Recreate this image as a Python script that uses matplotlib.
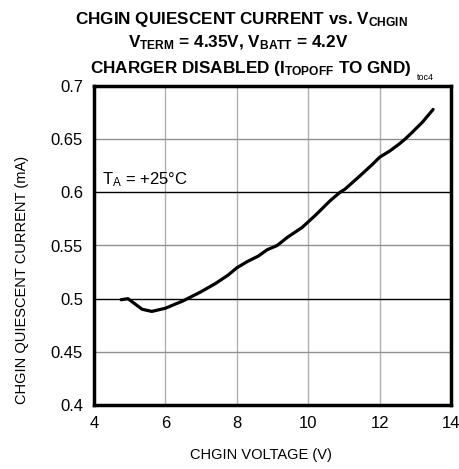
import matplotlib
matplotlib.use('Agg')
import matplotlib.pyplot as plt

plt.rcParams['font.family'] = ['Liberation Sans', 'DejaVu Sans']
plt.rcParams['mathtext.fontset'] = 'custom'
plt.rcParams['mathtext.rm'] = 'Liberation Sans'
plt.rcParams['mathtext.bf'] = 'Liberation Sans:bold'

# curve
v_chgin = [4.76, 4.95, 5.15, 5.35, 5.62, 6.0, 6.5, 6.97, 7.39, 7.75, 8.0, 8.3, 8.6, 8.85,
           9.13, 9.43, 9.83, 10.22, 10.61, 10.89, 11.03, 11.4, 11.79, 12.0, 12.29, 12.57,
           12.71, 12.9, 13.2, 13.5]
i_q = [0.499, 0.500, 0.495, 0.490, 0.488, 0.491, 0.498, 0.506, 0.514, 0.522, 0.529,
       0.535, 0.540, 0.546, 0.550, 0.558, 0.567, 0.579, 0.592, 0.600, 0.603, 0.614,
       0.626, 0.633, 0.639, 0.646, 0.650, 0.656, 0.666, 0.678]

xticks = [4, 6, 8, 10, 12, 14]
yticks = [0.4, 0.45, 0.5, 0.55, 0.6, 0.65, 0.7]
ylabels = ['0.4', '0.45', '0.5', '0.55', '0.6', '0.65', '0.7']

fig = plt.figure(figsize=(4.6, 4.69), dpi=100)
ax = fig.add_axes([94 / 460, 1 - 405 / 469, 357 / 460, 319 / 469])

ax.set_xlim(4, 14)
ax.set_ylim(0.4, 0.7)
ax.set_xticks(xticks)
ax.set_yticks(yticks)
ax.set_yticklabels(ylabels)
ax.tick_params(length=0, labelsize=12, pad=8)

for x in xticks[1:-1]:
    ax.axvline(x, color='#b0b0b0', lw=1, zorder=1)
for y in yticks[1:-1]:
    c = 'black' if y in (0.5, 0.6) else '#909090'
    ax.axhline(y, color=c, lw=1, zorder=1)

ax.plot(v_chgin, i_q, color='black', lw=2.3, zorder=3, solid_capstyle='round')

for s in ax.spines.values():
    s.set_linewidth(2.5)

ax.set_xlabel('CHGIN VOLTAGE (V)', fontsize=10.5)
ax.xaxis.set_label_coords((261 - 94) / 357, -(455 - 405) / 319)
ax.set_ylabel('CHGIN QUIESCENT CURRENT (mA)', fontsize=10.5)
ax.yaxis.set_label_coords((22 - 94) / 357, (405 - 280) / 319)
ax.xaxis.label.set_va('center')
ax.yaxis.label.set_va('center')

ax.text(4.22, 0.608, r'T$\mathregular{_A}$ = +25°C', fontsize=12, va='baseline')

tkw = dict(ha='center', va='baseline', fontsize=12.3, fontweight='bold')
fig.text(241 / 460, 1 - 24 / 469, r'CHGIN QUIESCENT CURRENT vs. V$\mathbf{_{CHGIN}}$', **tkw)
fig.text(238 / 460, 1 - 47 / 469, r'V$\mathbf{_{TERM}}$ = 4.35V, V$\mathbf{_{BATT}}$ = 4.2V', **tkw)
fig.text(251 / 460, 1 - 73 / 469, r'CHARGER DISABLED (I$\mathbf{_{TOPOFF}}$ TO GND)', **tkw)
fig.text(425 / 460, 1 - 80 / 469, 'toc4', fontsize=6.5, va='baseline', ha='center')

fig.savefig('out.png', dpi=100)
